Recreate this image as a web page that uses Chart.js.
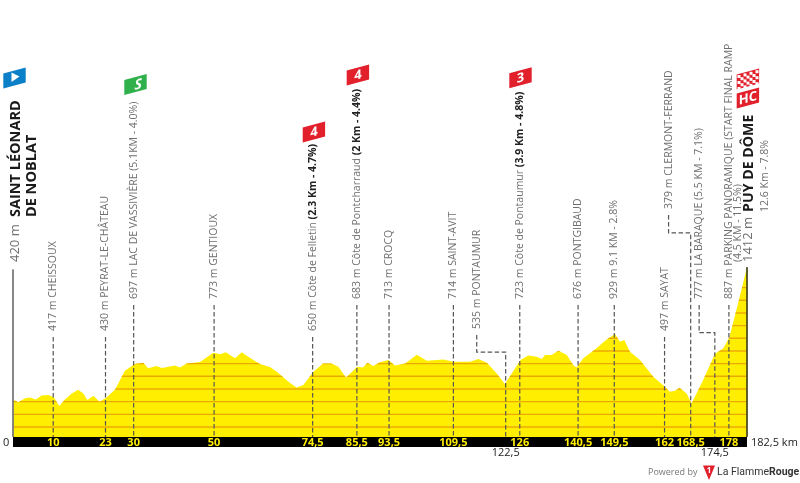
<!DOCTYPE html>
<html>
<head>
<meta charset="utf-8">
<style>
  html, body { margin: 0; padding: 0; background: #fff; }
  canvas { display: block; }
</style>
<script src="https://cdn.jsdelivr.net/npm/chart.js@4"></script>
</head>
<body>
<canvas id="myChart" width="800" height="483"></canvas>
<script>
// Stage profile
const profileKm = [0, 1.3, 3, 4.2, 5.7, 7.1, 8.8, 10.2, 11.5, 12.9, 14.6, 16.2, 17.5, 18.5, 20, 21.5, 23.1, 25.4, 27.8, 30.3,
  32.4, 33.6, 35.7, 37, 40.3, 41.5, 43.2, 46.5, 49.8, 51.5, 52.9, 55.2, 56.9, 58.1, 61.4, 63.9, 65.6, 68.5, 70.5, 72.2,
  74.7, 77.1, 79.2, 80.9, 82.8, 85.6, 87, 88.1, 89.6, 91.2, 93.3, 95, 97.5, 100.4, 102.9, 107, 109.5, 113.6, 115.7, 117.8,
  120.3, 122.3, 124, 126.2, 128.1, 130.2, 131.5, 132.3, 133.9, 135.6, 137.7, 139.3, 140.1, 141.8, 144.7, 147.6, 149.7, 150.9, 152, 153.4,
  155.9, 159.2, 162.1, 163.3, 164.6, 165.7, 167.5, 168.7, 171.6, 174.5, 176.6, 178.1, 180.3, 182.5];
const profileAlt = [420, 399, 429, 436, 421, 451, 454, 436, 371, 421, 466, 493, 466, 416, 448, 403, 431, 496, 636, 686,
  696, 654, 671, 656, 676, 661, 691, 701, 771, 759, 774, 729, 774, 749, 686, 664, 628, 553, 511, 529,
  628, 691, 691, 666, 586, 666, 661, 696, 671, 699, 716, 676, 691, 756, 711, 721, 704, 704, 724, 696,
  616, 536, 616, 716, 751, 741, 724, 754, 754, 786, 754, 679, 661, 729, 796, 871, 911, 854, 866, 779,
  716, 591, 516, 479, 486, 509, 466, 391, 566, 761, 804, 886, 1144, 1412];

const gridAlt = [214, 309, 404, 499, 594, 689, 784, 879, 974, 1069, 1164, 1259];

const tickKm = [10, 23, 30, 50, 74.5, 85.5, 93.5, 109.5, 122.5, 126, 140.5, 149.5, 162, 168.5, 174.5, 178];
const tickLabels = ["10", "23", "30", "50", "74,5", "85,5", "93,5", "109,5", "122,5", "126", "140,5", "149,5", "162", "168,5", "174,5", "178"];
const lowerTicks = [122.5, 174.5];

// Waypoints
const placeKm = [10, 23, 30, 50, 74.5, 85.5, 93.5, 109.5, 122.5, 126, 140.5, 149.5, 162, 168.5, 174.5, 178];
const placeLabels = ["417 m CHEISSOUX", "430 m PEYRAT-LE-CHÂTEAU", "697 m LAC DE VASSIVIÈRE (5.1KM - 4.0%)", "773 m GENTIOUX",
  "650 m Côte de Felletin ", "683 m Côte de Pontcharraud ", "713 m CROCQ", "714 m SAINT-AVIT", "535 m PONTAUMUR",
  "723 m Côte de Pontaumur ", "676 m PONTGIBAUD", "929 m 9.1 KM - 2.8%", "497 m SAYAT", "379 m CLERMONT-FERRAND",
  "777 m LA BARAQUE (5.5 KM - 7.1%)", "887 m PARKING PANORAMIQUE (START FINAL RAMP"];
const placeBold = ["", "", "", "", "(2.3 Km - 4.7%)", "(2 Km - 4.4%)", "", "", "", "(3.9 Km - 4.8%)", "", "", "", "", "", ""];
// altitude on the axis where each leader stops and where its label is shifted sideways to
const leaderTopAlt = [889, 889, 1129, 1129, 889, 1129, 1129, 1129, 904, 1129, 1129, 1129, 889, 1804, 1129, 1129];
const labelKm = [10, 23, 30, 50, 74.5, 85.5, 93.5, 109.5, 115.3, 126, 140.5, 149.5, 162, 163, 170.6, 178];
const jogAlt = [null, null, null, null, null, null, null, null, 776, null, null, null, null, 1669, 921, null];

const startLabel = ["420 m", "SAINT LÉONARD", "DE NOBLAT"];
const finishLabel = ["1412 m", "PUY DE DÔME", "12.6 Km - 7.8%"];
const finishRampLine = "(4.5 KM - 11.5%)";

const altMin = 139, altMax = 3416;
const yellow = "#ffee00", orange = "#ecaa00", grey = "#6f6f6f";

// one dashed dataset per leader, going through the jog when there is one
const leaderSets = placeKm.map((km, i) => {
  const pts = [{ x: labelKm[i], y: leaderTopAlt[i] }];
  if (jogAlt[i] !== null) {
    pts.push({ x: labelKm[i], y: jogAlt[i] });
    pts.push({ x: km, y: jogAlt[i] });
  }
  pts.push({ x: km, y: altMin });
  return {
    data: pts, borderColor: "#555", borderWidth: 1.2, borderDash: [4.5, 2.5],
    pointRadius: 0, fill: false, tension: 0, order: 1, clip: false,
  };
});

const profileSet = {
  data: profileKm.map((km, i) => ({ x: km, y: profileAlt[i] })),
  borderWidth: 0, backgroundColor: yellow, fill: "start",
  pointRadius: 0, tension: 0, order: 5,
};

const endLines = [
  { data: [{ x: 0, y: 1395 }, { x: 0, y: altMin }], borderColor: "#777", borderWidth: 1, pointRadius: 0, order: 0, clip: false },
  { data: [{ x: 182.5, y: 1412 }, { x: 182.5, y: altMin }], borderColor: "#4a4a20", borderWidth: 1, pointRadius: 0, order: 0, clip: false },
];

// orange level lines only inside the yellow area
const levelLines = {
  id: "levelLines",
  afterDatasetDraw(chart, args) {
    if (args.index !== 0) return;
    const { ctx, scales: { x, y } } = chart;
    const pts = chart.getDatasetMeta(0).data;
    ctx.save();
    ctx.beginPath();
    ctx.moveTo(pts[0].x, y.getPixelForValue(altMin));
    pts.forEach((p) => ctx.lineTo(p.x, p.y));
    ctx.lineTo(pts[pts.length - 1].x, y.getPixelForValue(altMin));
    ctx.closePath();
    ctx.clip();
    ctx.strokeStyle = orange;
    ctx.lineWidth = 1.4;
    gridAlt.forEach((alt) => {
      const py = y.getPixelForValue(alt);
      ctx.beginPath();
      ctx.moveTo(x.left, py);
      ctx.lineTo(x.right, py);
      ctx.stroke();
    });
    ctx.restore();
  },
};

function upText(ctx, px, py, parts) {
  ctx.save();
  ctx.translate(px, py);
  ctx.rotate(-Math.PI / 2);
  ctx.textBaseline = "middle";
  ctx.textAlign = "left";
  let off = 0;
  parts.forEach((p) => {
    ctx.font = p.font;
    ctx.fillStyle = p.color;
    ctx.fillText(p.text, off, 0);
    off += ctx.measureText(p.text).width;
  });
  ctx.restore();
}

function badge(ctx, left, top, fill) {
  ctx.fillStyle = fill;
  ctx.beginPath();
  ctx.moveTo(left, top + 6);
  ctx.lineTo(left + 22.4, top);
  ctx.lineTo(left + 22.4, top + 15);
  ctx.lineTo(left, top + 21);
  ctx.closePath();
  ctx.fill();
}

function badgeText(ctx, left, top, text, font) {
  ctx.save();
  ctx.translate(left + 11.2, top + 10.5);
  ctx.transform(1, -0.27, 0, 1, 0, 0);
  ctx.fillStyle = "#fff";
  ctx.font = font;
  ctx.textAlign = "center";
  ctx.textBaseline = "middle";
  ctx.fillText(text, 0, 0.5);
  ctx.restore();
}

const annotations = {
  id: "annotations",
  afterDraw(chart) {
    const { ctx, scales: { x, y } } = chart;
    const thin = "10.5px 'Open Sans'";
    const bold = "bold 10.5px 'Open Sans'";

    placeKm.forEach((km, i) => {
      const top = y.getPixelForValue(leaderTopAlt[i]);
      const parts = [{ text: placeLabels[i], font: thin, color: grey }];
      if (placeBold[i]) parts.push({ text: placeBold[i], font: bold, color: "#222" });
      upText(ctx, x.getPixelForValue(labelKm[i]), top - 6, parts);
    });
    upText(ctx, 738, 262, [{ text: finishRampLine, font: thin, color: grey }]);

    // start
    upText(ctx, 15, 262, [{ text: startLabel[0], font: "13px 'Open Sans'", color: grey }]);
    upText(ctx, 16, 217, [{ text: startLabel[1], font: "bold 14.5px 'Open Sans'", color: "#1a1a1a" }]);
    upText(ctx, 32, 217, [{ text: startLabel[2], font: "bold 14.5px 'Open Sans'", color: "#1a1a1a" }]);

    // finish
    upText(ctx, 748, 262, [{ text: finishLabel[0], font: "13px 'Open Sans'", color: grey }]);
    upText(ctx, 749, 212, [{ text: finishLabel[1], font: "bold 14.2px 'Open Sans'", color: "#1a1a1a" }]);
    upText(ctx, 765, 212, [{ text: finishLabel[2], font: thin, color: grey }]);

    // axis ends and the two km marks that sit under the band
    ctx.textBaseline = "middle";
    ctx.fillStyle = "#222";
    ctx.font = "11px 'Open Sans'";
    ctx.textAlign = "left";
    ctx.fillText("0", 3, 443);
    ctx.fillText("182,5 km", 751, 443);
    ctx.textAlign = "center";
    lowerTicks.forEach((km) => {
      ctx.fillText(tickLabels[tickKm.indexOf(km)], x.getPixelForValue(km), 453);
    });
    ctx.textAlign = "left";

    // badges
    badge(ctx, 3.3, 67.5, "#0b7fc7");
    ctx.fillStyle = "#fff";
    ctx.beginPath();
    ctx.moveTo(11.5, 72.5);
    ctx.lineTo(19.5, 76.5);
    ctx.lineTo(11.5, 82);
    ctx.closePath();
    ctx.fill();

    badge(ctx, 124.3, 74, "#2fb04a");
    badgeText(ctx, 127, 74, "S", "italic bold 14px 'Open Sans'");

    [[302.7, 121.5, "4"], [346.7, 64.5, "4"], [509.3, 67.3, "3"]].forEach(([l, t, s]) => {
      badge(ctx, l, t, "#e2202c");
      badgeText(ctx, l, t, s, "bold 13px 'Open Sans'");
    });

    badge(ctx, 736.7, 68.5, "#e2202c");
    ctx.fillStyle = "#fff";
    for (let c = 0; c < 7; c++) {
      for (let r = 0; r < 5; r++) {
        if ((c + r) % 2) continue;
        ctx.fillRect(737.5 + c * 3, 75 - c * 0.8 + r * 3, 3, 3);
      }
    }
    badge(ctx, 736.7, 87.5, "#e2202c");
    badgeText(ctx, 736.7, 87.5, "HC", "bold 13px 'Open Sans'");

    // footer
    ctx.textBaseline = "middle";
    ctx.fillStyle = "#777";
    ctx.font = "9px 'Open Sans'";
    ctx.fillText("Powered by", 648, 472);
    ctx.fillStyle = "#e2202c";
    ctx.beginPath();
    ctx.moveTo(703, 465.5);
    ctx.lineTo(715, 465.5);
    ctx.lineTo(709, 480);
    ctx.closePath();
    ctx.fill();
    ctx.fillStyle = "#fff";
    ctx.font = "bold 8px 'Open Sans'";
    ctx.textAlign = "center";
    ctx.fillText("1", 709, 470.5);
    ctx.textAlign = "left";
    ctx.fillStyle = "#333";
    ctx.font = "10.5px Roboto";
    ctx.fillText("La Flamme", 717, 472);
    const w = ctx.measureText("La Flamme").width;
    ctx.font = "bold 10.5px Roboto";
    ctx.fillText("Rouge", 717 + w, 472);
  },
};

const chart = new Chart(document.getElementById("myChart"), {
  type: "line",
  data: { datasets: [profileSet, ...leaderSets, ...endLines] },
  options: {
    responsive: false,
    animation: false,
    events: [],
    layout: { padding: { left: 13, right: 53, top: 0, bottom: 36 } },
    plugins: { legend: { display: false }, tooltip: { enabled: false } },
    scales: {
      x: {
        type: "linear",
        min: 0,
        max: 182.5,
        backgroundColor: "#000",
        grid: { display: false, drawTicks: false },
        border: { display: false },
        afterBuildTicks: (scale) => { scale.ticks = tickKm.map((v) => ({ value: v })); },
        afterFit: (scale) => { scale.height = 10; },
        ticks: {
          autoSkip: false,
          maxRotation: 0,
          padding: 0,
          font: { family: "'Open Sans'", size: 11, weight: "bold", lineHeight: 1 },
          color: yellow,
          callback: (v) => (lowerTicks.includes(v) ? "" : tickLabels[tickKm.indexOf(v)]),
        },
      },
      y: { type: "linear", display: false, min: altMin, max: altMax },
    },
  },
  plugins: [levelLines, annotations],
});
</script>
</body>
</html>
